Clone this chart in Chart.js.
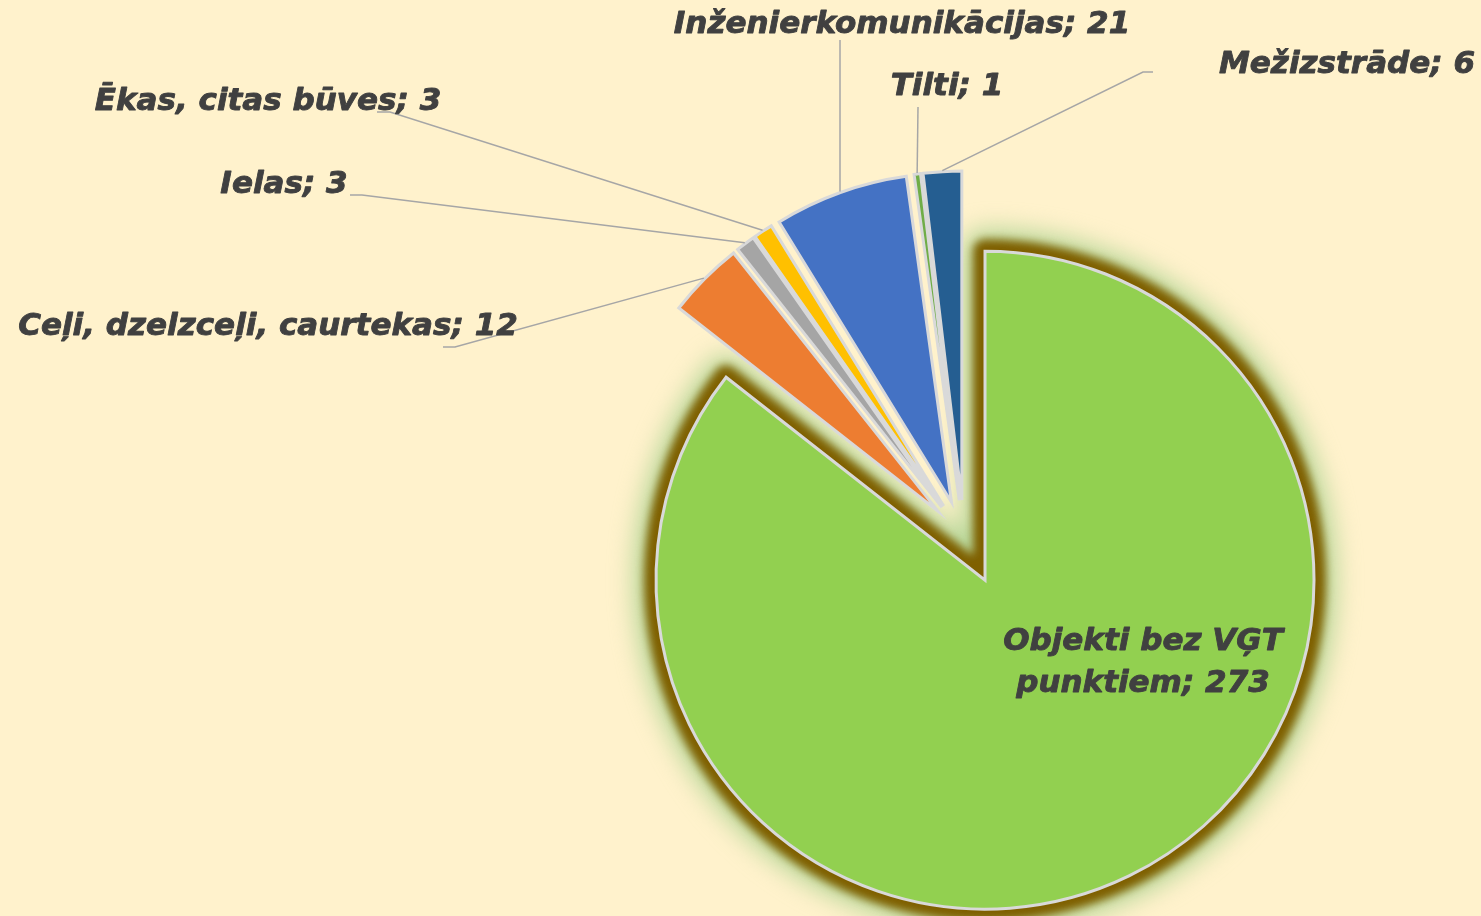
<!DOCTYPE html>
<html lang="lv">
<head>
<meta charset="utf-8">
<title>Objekti pa veidiem</title>
<script src="https://cdn.jsdelivr.net/npm/chart.js@4.4.1/dist/chart.umd.min.js"></script>
<style>
  html, body { margin: 0; padding: 0; background: #FFF2CC; overflow: hidden; }
  #chart { display: block; }
</style>
</head>
<body>
<canvas id="chart" width="1481" height="916"></canvas>
<script>
// Chart data
const categories = ['Objekti bez VĢT punktiem', 'Ceļi, dzelzceļi, caurtekas', 'Ielas', 'Ēkas, citas būves', 'Inženierkomunikācijas', 'Tilti', 'Mežizstrāde'];
const counts = [273, 12, 3, 3, 21, 1, 6];
const sliceColors = ['#92D050', '#ED7D31', '#A5A5A5', '#FFC000', '#4472C4', '#70AD47', '#255E91'];

// How far each slice is pulled out of the pie (px)
const explode = [48, 37, 37, 37, 37, 37, 37];

// Where each label sits (text centre x, baseline y) and the bend of its leader line
const labelLayout = [
  { x: 1143, y: 650, lineGap: 42, wrap: 3, lead: null },
  { x: 268, y: 335, lead: [[443, 347], [455, 347]] },
  { x: 284, y: 193, lead: [[350, 195], [362, 195]] },
  { x: 268, y: 110, lead: [[377, 112], [390, 112]] },
  { x: 902, y: 33, lead: [[840, 40]] },
  { x: 947, y: 95, lead: [[918, 107]] },
  { x: 1347, y: 73, lead: [[1153, 72], [1143, 72]] }
];

const labelFont = 'italic bold 31px "DejaVu Sans"';
const labelColor = '#404040';
const leaderColor = '#A6A6A6';

// outline of an arc element, used for the glow behind the big slice
function arcOutline(ctx, arc) {
  ctx.beginPath();
  ctx.moveTo(arc.x, arc.y);
  ctx.arc(arc.x, arc.y, arc.outerRadius, arc.startAngle, arc.endAngle);
  ctx.closePath();
}

// Exploded slices: shift every arc along its middle angle before drawing
const baseArcDraw = Chart.ArcElement.prototype.draw;
Chart.ArcElement.prototype.draw = function (ctx, area) {
  const i = this.$context ? this.$context.dataIndex : 0;
  const d = explode[i] || 0;
  const mid = (this.startAngle + this.endAngle) / 2;
  ctx.save();
  ctx.translate(Math.cos(mid) * d, Math.sin(mid) * d);
  if (i === 0) {
    ctx.save();
    ctx.lineJoin = 'round';
    // soft green halo
    ctx.filter = 'blur(12px)';
    arcOutline(ctx, this);
    ctx.lineWidth = 44;
    ctx.strokeStyle = 'rgba(169, 209, 142, 0.85)';
    ctx.stroke();
    // dark brown glow
    ctx.filter = 'blur(4px)';
    arcOutline(ctx, this);
    ctx.lineWidth = 24;
    ctx.strokeStyle = '#7F6000';
    ctx.stroke();
    ctx.restore();
  }
  baseArcDraw.call(this, ctx, area);
  ctx.restore();
};

// Data labels with leader lines
const labelPlugin = {
  id: 'sliceLabels',
  afterDatasetsDraw(chart) {
    const ctx = chart.ctx;
    const arcs = chart.getDatasetMeta(0).data;
    ctx.save();
    arcs.forEach((arc, i) => {
      const lay = labelLayout[i];
      if (!lay.lead) return;
      const mid = (arc.startAngle + arc.endAngle) / 2;
      const r = arc.outerRadius + explode[i] + 1;
      const ex = arc.x + Math.cos(mid) * r;
      const ey = arc.y + Math.sin(mid) * r;
      ctx.beginPath();
      ctx.moveTo(lay.lead[0][0], lay.lead[0][1]);
      lay.lead.slice(1).forEach(p => ctx.lineTo(p[0], p[1]));
      ctx.lineTo(ex, ey);
      ctx.strokeStyle = leaderColor;
      ctx.lineWidth = 1.5;
      ctx.stroke();
    });

    ctx.font = labelFont;
    ctx.fillStyle = labelColor;
    ctx.strokeStyle = labelColor;
    ctx.lineWidth = 0.9;
    ctx.lineJoin = 'round';
    ctx.textAlign = 'center';
    ctx.textBaseline = 'alphabetic';
    const put = (t, x, y) => { ctx.fillText(t, x, y); ctx.strokeText(t, x, y); };
    arcs.forEach((arc, i) => {
      const lay = labelLayout[i];
      const text = categories[i] + '; ' + counts[i];
      if (lay.wrap) {
        const words = text.split(' ');
        put(words.slice(0, lay.wrap).join(' '), lay.x, lay.y);
        put(words.slice(lay.wrap).join(' '), lay.x, lay.y + lay.lineGap);
      } else {
        put(text, lay.x, lay.y);
      }
    });
    ctx.restore();
  }
};

new Chart(document.getElementById('chart'), {
  type: 'pie',
  data: {
    labels: categories,
    datasets: [{
      data: counts,
      backgroundColor: sliceColors,
      borderColor: '#D9D9D9',
      borderWidth: 3,
      borderJoinStyle: 'miter'
    }]
  },
  options: {
    responsive: false,
    animation: false,
    events: [],
    radius: 329,
    layout: { padding: { left: 447, top: 158, right: 0, bottom: 0 } },
    plugins: {
      legend: { display: false },
      tooltip: { enabled: false }
    }
  },
  plugins: [labelPlugin]
});
</script>
</body>
</html>
